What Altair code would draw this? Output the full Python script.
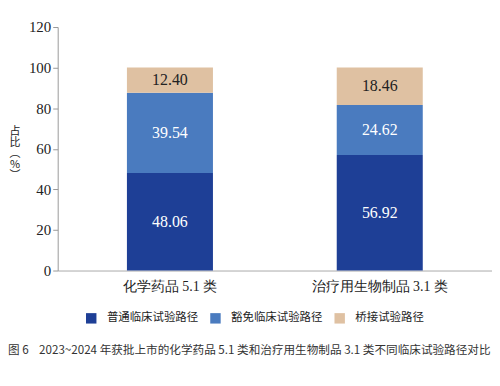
import altair as alt
import pandas as pd

categories = ["化学药品 5.1 类", "治疗用生物制品 3.1 类"]
paths = ["普通临床试验路径", "豁免临床试验路径", "桥接试验路径"]
common = [48.06, 56.92]
exempt = [39.54, 24.62]
bridge = [12.40, 18.46]
colors = ["#1e3f96", "#4a7bbf", "#dfc1a2"]
label_colors = ["#ffffff", "#ffffff", "#222222"]
y_title = ["占", "比", "︵", "%", "︶"]
caption = "图 6" + "\u00a0" * 4 + "2023~2024 年获批上市的化学药品 5.1 类和治疗用生物制品 3.1 类不同临床试验路径对比"

rows = []
for i, c in enumerate(categories):
    for j, (p, vals) in enumerate(zip(paths, [common, exempt, bridge])):
        rows.append({"cat": c, "path": p, "val": vals[i], "ord": j,
                     "lab": f"{vals[i]:.2f}", "lc": label_colors[j]})
df = pd.DataFrame(rows)

serif = "Liberation Serif"
cjk = "Noto Sans CJK SC"

x = alt.X("cat:N", sort=categories, title=None,
          scale=alt.Scale(paddingInner=0.59, paddingOuter=0.33),
          axis=alt.Axis(labelAngle=0, labelFont=serif, labelFontSize=14, labelColor="#222",
                        ticks=False, domainColor="#aaaaaa", labelPadding=9))

bars = alt.Chart(df).mark_bar().encode(
    x=x,
    y=alt.Y("sum(val):Q", stack="zero",
            scale=alt.Scale(domain=[0, 120]),
            axis=alt.Axis(values=[0, 20, 40, 60, 80, 100, 120], grid=False,
                          labelFont=serif, labelFontSize=15, labelColor="#222",
                          tickColor="#999", domainColor="#999", tickSize=5,
                          title=None)),
    color=alt.Color("path:N", sort=paths,
                    scale=alt.Scale(domain=paths, range=colors),
                    legend=alt.Legend(title=None, orient="none", legendX=28, legendY=287,
                                      direction="horizontal", columns=3,
                                      symbolType="square", symbolSize=110,
                                      symbolStrokeWidth=0, symbolOpacity=1,
                                      labelFont=cjk, labelFontSize=11.5,
                                      labelColor="#222", columnPadding=11,
                                      labelOffset=10)),
    order=alt.Order("ord:Q"),
)

texts = alt.Chart(df).transform_stack(
    stack="val", groupby=["cat"], sort=[alt.SortField("ord")], as_=["y0", "y1"]
).transform_calculate(
    mid="(datum.y0 + datum.y1) / 2"
).mark_text(font=serif, fontSize=16, baseline="middle").encode(
    x=alt.X("cat:N", sort=categories),
    y=alt.Y("mid:Q"),
    text="lab:N",
    color=alt.Color("lc:N", scale=None),
)

ytitle = alt.Chart(pd.DataFrame({"t": [y_title]})).mark_text(
    font=cjk, fontSize=11, color="#222", lineHeight=11, baseline="top", align="center"
).encode(text="t", x=alt.value(-43), y=alt.value(100))

chart = alt.layer(bars, texts, ytitle).properties(
    width=437, height=245,
    autosize=alt.AutoSizeParams(type="none"),
    padding={"left": 50, "top": 18, "right": 0, "bottom": 107},
    title=alt.TitleParams(
        caption,
        orient="bottom", anchor="start", frame="group", dx=-50, offset=21,
        font=cjk, fontSize=11.7, fontWeight="normal", color="#333"),
).configure_view(stroke=None)

chart.save("out.html", embed_options={"renderer": "svg", "actions": False})
